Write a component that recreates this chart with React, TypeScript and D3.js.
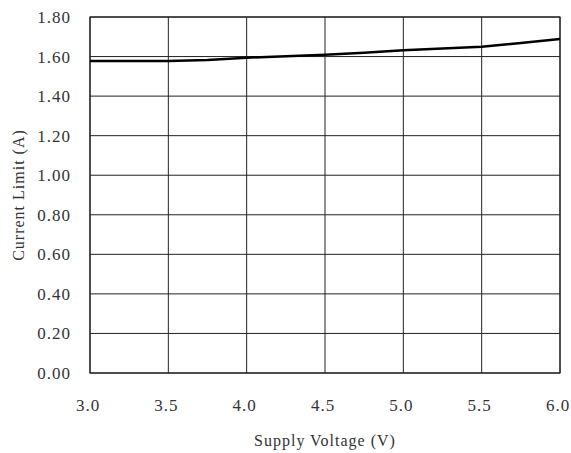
import React from "react";
import * as d3 from "d3";

const voltage = [3.0, 3.25, 3.5, 3.75, 4.0, 4.25, 4.5, 4.75, 5.0, 5.25, 5.5, 5.75, 6.0];
const currentLimit = [1.577, 1.577, 1.577, 1.582, 1.594, 1.602, 1.609, 1.619, 1.632, 1.641, 1.65, 1.668, 1.689];
const xTicks = [3.0, 3.5, 4.0, 4.5, 5.0, 5.5, 6.0];
const yTicks = [0, 0.2, 0.4, 0.6, 0.8, 1.0, 1.2, 1.4, 1.6, 1.8];

const W = 571, H = 453;
const M = { left: 90, right: 560, top: 17, bottom: 373 };
const FONT = "'Liberation Serif', 'Times New Roman', serif";

export default function App() {
  const x = d3.scaleLinear().domain([3, 6]).range([M.left, M.right]);
  const y = d3.scaleLinear().domain([0, 1.8]).range([M.bottom, M.top]);
  const line = d3.line<number>().x((_, i) => x(voltage[i])).y((d) => y(d));
  return (
    <svg width={W} height={H} style={{ position: "absolute", left: 0, top: 0, background: "#fff" }}>
      {yTicks.map((t) => (
        <g key={"y" + t}>
          <line x1={M.left} x2={M.right} y1={y(t)} y2={y(t)} stroke="#222" strokeWidth={1} />
          <text x={71} y={y(t)} dy="0.35em" textAnchor="end" fontFamily={FONT} fontSize={17} letterSpacing={1} fill="#333">
            {t.toFixed(2)}
          </text>
        </g>
      ))}
      {xTicks.map((t) => (
        <g key={"x" + t}>
          <line x1={x(t)} x2={x(t)} y1={M.top} y2={M.bottom} stroke="#222" strokeWidth={1} />
          <text x={x(t) - 2} y={405} dy="0.35em" textAnchor="middle" fontFamily={FONT} fontSize={17} letterSpacing={1} fill="#333">
            {t.toFixed(1)}
          </text>
        </g>
      ))}
      <rect x={M.left} y={M.top} width={M.right - M.left} height={M.bottom - M.top} fill="none" stroke="#222" strokeWidth={1.2} />
      <path d={line(currentLimit) || ""} fill="none" stroke="#000" strokeWidth={2.5} />
      <text x={325} y={440} dy="0.35em" textAnchor="middle" fontFamily={FONT} fontSize={16} letterSpacing={1} fill="#333">
        Supply Voltage (V)
      </text>
      <text transform={`translate(18,${(M.top + M.bottom) / 2}) rotate(-90)`} dy="0.35em" textAnchor="middle" fontFamily={FONT} fontSize={16} letterSpacing={1} fill="#333">
        Current Limit (A)
      </text>
    </svg>
  );
}
